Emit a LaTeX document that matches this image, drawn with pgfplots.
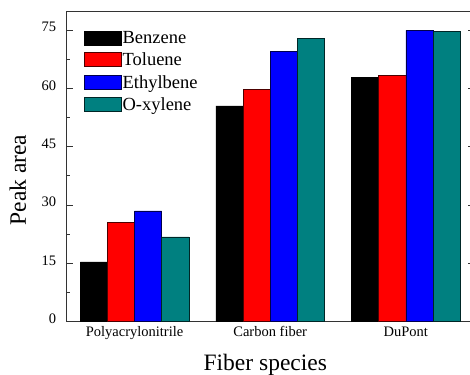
\documentclass[border=0pt]{standalone}
\usepackage{pgfplots}
\pgfplotsset{compat=1.18}
\usepackage{fontspec}
\setmainfont{Liberation Serif}
\definecolor{teal2}{RGB}{0,128,128}
\begin{document}
\begin{tikzpicture}
\begin{axis}[
  scale only axis,
  width=407pt, height=310pt,
  xmin=0.5, xmax=3.5, ymin=0, ymax=79.7,
  /pgf/number format/assume math mode=true,
  axis line style={line width=1pt, black!80},
  xtick=\empty, minor xtick={1.5,2.5},
  extra x ticks={1,2,3},
  extra x tick labels={Polyacrylonitrile,Carbon fiber,DuPont},
  extra x tick style={major tick length=0pt, xticklabel style={anchor=base, yshift=-14.8pt}},
  major tick length=6pt, minor tick length=3.5pt,
  ytick={0,15,30,45,60,75}, minor ytick={7.5,22.5,37.5,52.5,67.5},
  tick style={black!80, line width=0.8pt},
  ticklabel style={font=\fontsize{14.5}{17}\selectfont},
  yticklabel style={xshift=-7pt, yshift=3pt},
  xlabel={Fiber species}, ylabel={Peak area},
  every axis x label/.style={at={(axis description cs:0.488,-0.156)}, anchor=base, font=\fontsize{23.5}{28}\selectfont},
  every axis y label/.style={at={(axis description cs:-0.12,0.457)}, rotate=90, anchor=center, font=\fontsize{23.5}{28}\selectfont},
  ybar, bar width=0.2,
  legend image code/.code={\draw[#1,line width=0.6pt] (0pt,-6.5pt) rectangle (37pt,7.5pt);},
  legend style={draw=none, fill=none, at={(axis description cs:0.0425,0.94)}, anchor=north west,
    font=\fontsize{18.5}{22}\selectfont, inner sep=0pt, row sep=6.3pt,
    nodes={inner sep=0.8pt}},
  legend cell align=left,
]
\addplot[fill=black, draw=black, line width=0.6pt, bar shift=-0.3] coordinates {(1,15.4) (2,55.5) (3,62.8)};
\addplot[fill=red, draw=black!70!red, line width=0.6pt, bar shift=-0.1] coordinates {(1,25.6) (2,59.8) (3,63.4)};
\addplot[fill=blue, draw=black!70!blue, line width=0.6pt, bar shift=0.1] coordinates {(1,28.5) (2,69.4) (3,74.9)};
\addplot[fill=teal2, draw=black!70!teal2, line width=0.6pt, bar shift=0.3] coordinates {(1,21.8) (2,72.9) (3,74.6)};
\legend{Benzene,Toluene,Ethylbene,O-xylene}
\coordinate (bl) at (rel axis cs:0,0);
\coordinate (tl) at (rel axis cs:0,1);
\end{axis}
\pgfresetboundingbox
\path[use as bounding box] ([xshift=-66.7pt,yshift=-52.3pt]bl) rectangle ([xshift=403.3pt,yshift=11.7pt]tl);
\end{tikzpicture}
\end{document}
